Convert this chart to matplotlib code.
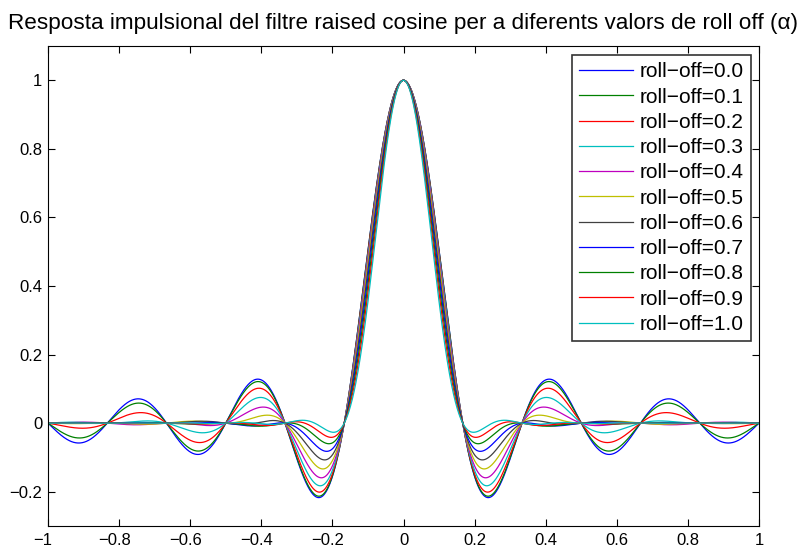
import numpy as np
import matplotlib
matplotlib.use("Agg")
import matplotlib.pyplot as plt
from matplotlib.transforms import ScaledTranslation

# Data: roll-off factors and symbol period of the raised cosine filter
roll_offs = [0.0, 0.1, 0.2, 0.3, 0.4, 0.5, 0.6, 0.7, 0.8, 0.9, 1.0]
symbol_period = 1.0 / 6.0
t_range = (-1.0, 1.0)
x_ticks = [-1, -0.8, -0.6, -0.4, -0.2, 0, 0.2, 0.4, 0.6, 0.8, 1]
y_ticks = [-0.2, 0, 0.2, 0.4, 0.6, 0.8, 1.0]
title = "Resposta impulsional del filtre raised cosine per a diferents valors de roll off (\u03b1)"

colors = [(0, 0, 1), (0, 0.5, 0), (1, 0, 0), (0, 0.75, 0.75), (0.75, 0, 0.75),
          (0.75, 0.75, 0), (0.25, 0.25, 0.25)]

plt.rcParams['font.family'] = ['Liberation Sans', 'DejaVu Sans']

def raised_cosine(t, a, T):
    x = t / T
    h = np.sinc(x)
    if a == 0:
        return h
    den = 1 - (2 * a * x) ** 2
    out = np.empty_like(t)
    sing = np.abs(den) < 1e-10
    out[~sing] = h[~sing] * np.cos(np.pi * a * x[~sing]) / den[~sing]
    out[sing] = np.pi / 4 * np.sinc(1 / (2 * a))
    return out

t = np.linspace(t_range[0], t_range[1], 2001)

fig = plt.figure(figsize=(8, 5.47), dpi=100)
ax = fig.add_axes([48 / 800, 1 - 526 / 547, 711 / 800, 480 / 547])

for i, a in enumerate(roll_offs):
    ax.plot(t, raised_cosine(t, a, symbol_period), color=colors[i % len(colors)],
            lw=0.9, label="roll\u2212off=%.1f" % a)

ax.set_xlim(-1, 1)
ax.set_ylim(-0.3, 1.1)
ax.set_xticks(x_ticks)
ax.set_yticks(y_ticks)
ax.set_xticklabels([("%g" % v).replace("-", "\u2212") for v in x_ticks])
ax.set_yticklabels([("%g" % v).replace("-", "\u2212") for v in y_ticks])
ax.tick_params(direction='in', length=5, labelsize=12, top=True, right=True,
               labeltop=False, labelright=False)
ax.tick_params(axis='x', pad=5)
ax.tick_params(axis='y', pad=4)
for s in ax.spines.values():
    s.set_linewidth(0.8)

# negative x labels: digits centred on tick, minus sign hanging left
shift = ScaledTranslation(-5 / 100, 0, fig.dpi_scale_trans)
for lbl, v in zip(ax.get_xticklabels(), x_ticks):
    if v < 0:
        lbl.set_transform(lbl.get_transform() + shift)

ax.set_title(title, fontsize=16.2, pad=12)

leg = ax.legend(loc='upper right', bbox_to_anchor=(751 / 800, 1 - 55 / 547),
                bbox_transform=fig.transFigure, borderaxespad=0,
                fontsize=15, frameon=True, fancybox=False,
                edgecolor='black', handlelength=2.6, labelspacing=0.3,
                handletextpad=0.3, borderpad=0.35)
leg.get_frame().set_linewidth(1.2)

fig.savefig("out.png", dpi=100)
